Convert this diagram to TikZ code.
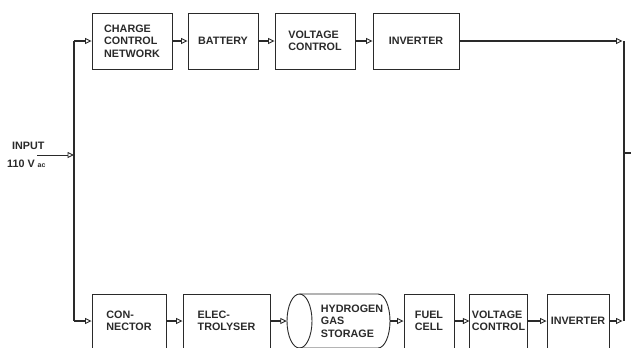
\documentclass[tikz,border=0pt]{standalone}
\usepackage{fontspec}
\setmainfont{Liberation Sans}
\usetikzlibrary{arrows.meta}
\definecolor{ink}{HTML}{2A2A2A}
\tikzset{
  box/.style={draw=ink, line width=0.9bp, inner sep=2bp, align=left,
    font=\bfseries\fontsize{10.8}{12.5}\selectfont, text=ink},
  lbl/.style={inner sep=1bp, align=left, font=\bfseries\fontsize{10.8}{12.5}\selectfont, text=ink},
  wire/.style={draw=ink, line width=1.4bp},
  conn/.style={wire, -{Triangle[open, length=6.5bp, width=6bp, line width=0.9bp]}},
}
\begin{document}
\begin{tikzpicture}[x=1bp, y=-1bp]
\useasboundingbox (0,0) rectangle (631,347);
\clip (0,0) rectangle (631,347);
\fill[white] (0,0) rectangle (631,347);
% top row
\node[box, minimum width=80bp, minimum height=56bp] (ccn) at (132,41) {CHARGE\\CONTROL\\NETWORK};
\node[box, minimum width=70bp, minimum height=56bp] (bat) at (223,41) {BATTERY};
\node[box, minimum width=80bp, minimum height=56bp] (vc1) at (315,41) {VOLTAGE\\CONTROL};
\node[box, minimum width=86bp, minimum height=56bp] (inv1) at (416,41) {INVERTER};
% bottom row
\node[box, minimum width=74bp, minimum height=54bp] (con) at (129,321) {CON-\\NECTOR};
\node[box, minimum width=87bp, minimum height=54bp] (ele) at (226.5,321) {ELEC-\\TROLYSER};
\node[inner sep=0pt, minimum width=103bp, minimum height=54bp] (cyl) at (338.5,321) {};
\draw[ink, line width=0.9bp] (299.5,321) ellipse [x radius=12.5, y radius=27];
\draw[ink, line width=0.9bp] (299.5,294) -- (378,294)
  .. controls (384.6,294) and (390,306.1) .. (390,321)
  .. controls (390,335.9) and (384.6,348) .. (378,348) -- (299.5,348);
\node[lbl] (h2) at (352,321) {HYDROGEN\\GAS\\STORAGE};
\node[box, minimum width=50bp, minimum height=54bp] (fc) at (429,321) {FUEL\\CELL};
\node[box, minimum width=57bp, minimum height=54bp] (vc2) at (498.5,321) {VOLTAGE\\CONTROL};
\node[box, minimum width=62bp, minimum height=54bp] (inv2) at (578,321) {INVERTER};
% input
\node[lbl, anchor=west] (inp) at (11,146) {INPUT};
\node[lbl, anchor=west] (volt) at (6,164) {110 V {\fontsize{7}{7}\selectfont ac}};
\coordinate (instart) at (37,155);
\coordinate (injoin) at (74,155);
% left bus
\coordinate (L1) at (74,41);
\coordinate (L2) at (74,321);
\draw[wire] (L1) -- (L2);
\draw[conn, line width=1bp] (instart) -- (injoin);
\draw[conn] (L1) -- (ccn);
\draw[conn] (L2) -- (con);
% top row connectors
\draw[conn] (ccn) -- (bat);
\draw[conn] (bat) -- (vc1);
\draw[conn] (vc1) -- (inv1);
% bottom row connectors
\draw[conn] (con) -- (ele);
\draw[conn] (ele) -- (cyl);
\draw[conn] (cyl) -- (fc);
\draw[conn] (fc) -- (vc2);
\draw[conn] (vc2) -- (inv2);
% right bus
\coordinate (R1) at (624,41);
\coordinate (R2) at (624,321);
\coordinate (Rm) at (624,153);
\coordinate (out) at (631,153);
\draw[wire] (R1) -- (R2);
\draw[conn, shorten >=1.5bp] (inv1) -- (R1);
\draw[conn, shorten >=1.5bp] (inv2) -- (R2);
\draw[wire] (Rm) -- (out);
\end{tikzpicture}
\end{document}
